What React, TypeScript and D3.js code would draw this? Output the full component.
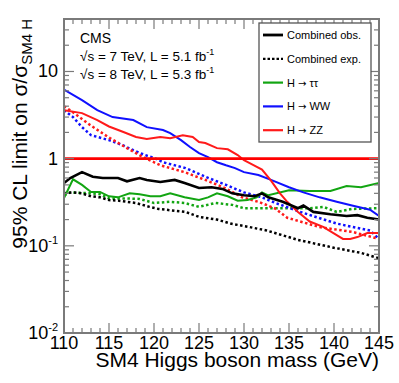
import React, { useEffect, useRef } from 'react';
import * as d3 from 'd3';

// combined observed / expected
const obsMass = [110, 110.7, 112, 113.2, 114.3, 116, 117, 118.4, 119.2, 120.7, 122.3, 123.4, 125, 126.4, 127.6, 128.7, 130, 131.2, 132, 132.7, 134.3, 136, 136.6, 137.7, 139.6, 141.4, 142.6, 143.7, 145];
const obsLimit = [0.525, 0.6, 0.7, 0.62, 0.6, 0.6, 0.55, 0.6, 0.57, 0.54, 0.57, 0.525, 0.46, 0.47, 0.45, 0.4, 0.38, 0.37, 0.4, 0.36, 0.32, 0.27, 0.29, 0.245, 0.23, 0.22, 0.225, 0.21, 0.2];
const expMass = [110, 111, 112, 113, 114, 115, 116, 117, 118, 119.5, 120.5, 123.5, 125, 127, 128.5, 130.5, 132.5, 136, 140, 143, 145];
const expLimit = [0.4, 0.41, 0.4, 0.37, 0.36, 0.335, 0.33, 0.32, 0.31, 0.28, 0.265, 0.245, 0.215, 0.2, 0.18, 0.165, 0.15, 0.117, 0.095, 0.083, 0.072];

// H -> tautau
const ttMass = [110, 111, 112, 113, 114, 115, 116, 117.3, 118.4, 119.6, 120.7, 121.8, 123.4, 125, 126, 127, 128.2, 129.3, 130.4, 131.4, 132, 132.7, 135, 137.3, 139.6, 141.4, 143, 145];
const ttLimit = [0.353, 0.58, 0.5, 0.415, 0.415, 0.37, 0.36, 0.4, 0.39, 0.37, 0.37, 0.4, 0.36, 0.335, 0.36, 0.4, 0.37, 0.33, 0.335, 0.36, 0.41, 0.38, 0.435, 0.425, 0.425, 0.485, 0.47, 0.525];
const ttExpMass = [110, 110.7, 113, 114, 115, 117, 118.4, 120, 121.8, 123.4, 125, 126.8, 128.7, 130, 131.6, 133.4, 135, 137.3, 138.8, 140.3, 142, 145];
const ttExpLimit = [0.38, 0.41, 0.4, 0.39, 0.35, 0.35, 0.345, 0.31, 0.32, 0.31, 0.28, 0.31, 0.295, 0.27, 0.27, 0.27, 0.27, 0.27, 0.28, 0.245, 0.265, 0.27];

// H -> WW
const wwMass = [110, 112, 113.7, 115.4, 117.7, 119.2, 121, 121.8, 123, 124, 125, 126, 127, 128, 129, 130, 131.6, 133, 135, 136.6, 138.4, 140.3, 142, 144, 145];
const wwLimit = [6.2, 4.7, 3.6, 3.0, 2.77, 2.3, 2.13, 1.96, 1.63, 1.36, 1.16, 1.04, 0.91, 0.84, 0.78, 0.7, 0.65, 0.57, 0.47, 0.41, 0.36, 0.32, 0.29, 0.26, 0.22];
const wwExpMass = [110, 111, 112, 113, 115, 116.5, 117.7, 119, 120, 121, 123.5, 125.7, 128, 130, 132, 133.5, 136.5, 140.3, 144, 145];
const wwExpLimit = [3.6, 3.0, 2.3, 1.86, 1.63, 1.43, 1.25, 1.1, 1.02, 0.91, 0.78, 0.62, 0.5, 0.41, 0.36, 0.31, 0.24, 0.18, 0.15, 0.12];

// H -> ZZ
const zzMass = [110, 112, 113.7, 115, 116.6, 118, 119.2, 120.7, 121.8, 123.2, 124.3, 125, 125.7, 127, 128.2, 129.3, 130, 131, 132, 133, 134, 134.8, 136, 137.3, 138.8, 140.3, 141, 141.8, 142.6, 143.7, 145];
const zzLimit = [3.6, 3.33, 2.77, 2.34, 2.02, 1.77, 1.68, 1.77, 1.72, 1.86, 1.77, 1.55, 1.51, 1.32, 1.28, 1.1, 0.96, 0.85, 0.75, 0.56, 0.4, 0.32, 0.245, 0.19, 0.165, 0.133, 0.12, 0.12, 0.126, 0.14, 0.14];
const zzExpMass = [110, 111, 112.9, 115.1, 117, 118.8, 120.7, 123.4, 125.7, 127.9, 129.8, 131.6, 133.4, 134.8, 138.4, 142.1, 145];
const zzExpLimit = [4.0, 3.4, 2.43, 1.72, 1.32, 1.04, 0.84, 0.7, 0.57, 0.46, 0.36, 0.32, 0.27, 0.21, 0.164, 0.144, 0.12];

const xTicks = [110, 115, 120, 125, 130, 135, 140, 145];
const yDecades = [0.01, 0.1, 1, 10];

const legendLabels = ['Combined obs.', 'Combined exp.', 'H \u2192 \u03c4\u03c4', 'H \u2192 WW', 'H \u2192 ZZ'];

const W = 399;
const H = 383;
const m = { left: 64, right: 379, top: 19, bottom: 333 };
const font = '"Liberation Sans", Arial, Helvetica, sans-serif';

const App = () => {
  const ref = useRef<SVGSVGElement>(null);

  useEffect(() => {
    const svg = d3.select(ref.current);
    svg.selectAll('*').remove();

    const x = d3.scaleLinear().domain([110, 145]).range([m.left, m.right]);
    const y = d3.scaleLog().domain([0.01, 40]).range([m.bottom, m.top]);

    const plot = svg.append('g');
    const clip = svg.append('clipPath').attr('id', 'clip');
    clip.append('rect').attr('x', m.left).attr('y', m.top).attr('width', m.right - m.left).attr('height', m.bottom - m.top);

    const curves = plot.append('g').attr('clip-path', 'url(#clip)');
    const line = d3.line<[number, number]>().x(d => x(d[0])).y(d => y(d[1]));

    const series = [
      { mass: ttExpMass, lim: ttExpLimit, color: '#12a512', dash: true },
      { mass: wwExpMass, lim: wwExpLimit, color: '#1010ff', dash: true },
      { mass: zzExpMass, lim: zzExpLimit, color: '#ff1a1a', dash: true },
      { mass: expMass, lim: expLimit, color: '#000', dash: true },
      { mass: ttMass, lim: ttLimit, color: '#12a512', dash: false },
      { mass: wwMass, lim: wwLimit, color: '#1010ff', dash: false },
      { mass: zzMass, lim: zzLimit, color: '#ff1a1a', dash: false },
      { mass: obsMass, lim: obsLimit, color: '#000', dash: false },
    ];

    series.forEach(s => {
      const pts = s.mass.map((v, i) => [v, s.lim[i]] as [number, number]);
      curves.append('path')
        .attr('d', line(pts))
        .attr('fill', 'none')
        .attr('stroke', s.color)
        .attr('stroke-width', s.dash ? 2.5 : (s.color === '#000' ? 2.6 : 2))
        .attr('stroke-dasharray', s.dash ? '2.5,2.5' : null);
    });

    // SM4 reference line
    curves.append('line')
      .attr('x1', m.left).attr('x2', m.right)
      .attr('y1', y(1)).attr('y2', y(1))
      .attr('stroke', '#ff0000').attr('stroke-width', 2.6);

    // frame and ticks
    const axis = svg.append('g').attr('stroke', '#7a7a7a');
    axis.append('rect')
      .attr('x', m.left).attr('y', m.top)
      .attr('width', m.right - m.left).attr('height', m.bottom - m.top)
      .attr('fill', 'none').attr('stroke-width', 2);

    d3.range(110, 146, 1).forEach(v => {
      const len = v % 5 === 0 ? 10 : 5;
      axis.append('line').attr('x1', x(v)).attr('x2', x(v)).attr('y1', m.bottom).attr('y2', m.bottom - len).attr('stroke-width', 1.2);
      axis.append('line').attr('x1', x(v)).attr('x2', x(v)).attr('y1', m.top).attr('y2', m.top + len).attr('stroke-width', 1.2);
    });

    const minors: number[] = [];
    yDecades.forEach(d => d3.range(1, 10).forEach(k => { if (d * k <= 40) minors.push(d * k); }));
    minors.forEach(v => {
      const major = yDecades.includes(v);
      const len = major ? 10 : 5;
      axis.append('line').attr('x1', m.left).attr('x2', m.left + len).attr('y1', y(v)).attr('y2', y(v)).attr('stroke-width', 1.2);
      axis.append('line').attr('x1', m.right).attr('x2', m.right - len).attr('y1', y(v)).attr('y2', y(v)).attr('stroke-width', 1.2);
    });

    const txt = svg.append('g').attr('font-family', font).attr('fill', '#000');

    xTicks.forEach(v => {
      txt.append('text').attr('x', x(v)).attr('y', 349).attr('text-anchor', 'middle').attr('font-size', 18).text(v);
    });

    yDecades.forEach(v => {
      const t = txt.append('text').attr('x', 58).attr('y', y(v) + 6).attr('text-anchor', 'end').attr('font-size', 18);
      if (v >= 1) {
        t.text(v);
      } else {
        t.append('tspan').text('10');
        t.append('tspan').attr('font-size', 11).attr('dy', -8).text(`-${Math.round(-Math.log10(v))}`);
      }
    });

    // axis titles
    txt.append('text').attr('x', m.right).attr('y', 367).attr('text-anchor', 'end').attr('font-size', 21)
      .text('SM4 Higgs boson mass (GeV)');

    const yt = txt.append('text')
      .attr('transform', `translate(27, ${m.top}) rotate(-90)`)
      .attr('text-anchor', 'end').attr('font-size', 21);
    yt.append('tspan').text('95% CL limit on \u03c3/\u03c3');
    yt.append('tspan').attr('font-size', 15).attr('dy', 5).text('SM4 H');

    // labels
    txt.append('text').attr('x', 80).attr('y', 43).attr('font-size', 14).text('CMS');
    [['7', '5.1', 61], ['8', '5.3', 79]].forEach(([e, l, yy]) => {
      const t = txt.append('text').attr('x', 80).attr('y', yy as number).attr('font-size', 13.5);
      t.append('tspan').text(`\u221as = ${e} TeV, L = ${l} fb`);
      t.append('tspan').attr('font-size', 9).attr('dy', -6).text('-1');
    });

    // legend
    const lg = svg.append('g');
    lg.append('rect').attr('x', 259).attr('y', 23).attr('width', 112).attr('height', 119)
      .attr('fill', '#fff').attr('stroke', '#555').attr('stroke-width', 1.3);
    const legendStyle = [
      { color: '#000', dash: false },
      { color: '#000', dash: true },
      { color: '#12a512', dash: false },
      { color: '#1010ff', dash: false },
      { color: '#ff1a1a', dash: false },
    ];
    legendLabels.forEach((label, i) => {
      const yy = 35 + i * 23.8;
      lg.append('line').attr('x1', 263).attr('x2', 283).attr('y1', yy).attr('y2', yy)
        .attr('stroke', legendStyle[i].color)
        .attr('stroke-width', i === 0 ? 2.8 : 2.2)
        .attr('stroke-dasharray', legendStyle[i].dash ? '2.5,2' : null);
      const t = lg.append('text').attr('x', 287).attr('y', yy + 4).attr('font-family', font).attr('font-size', 11);
      const parts = label.split('\u2192');
      if (parts.length === 2) {
        t.append('tspan').text(parts[0]);
        t.append('tspan').attr('font-family', '"DejaVu Sans", sans-serif').attr('font-size', 10).text('\u2192');
        t.append('tspan').text(parts[1]);
      } else {
        t.text(label);
      }
    });
  }, []);

  return (
    <svg ref={ref} width={W} height={H} style={{ position: 'absolute', left: 0, top: 0, background: '#fff' }} />
  );
};

export default App;
